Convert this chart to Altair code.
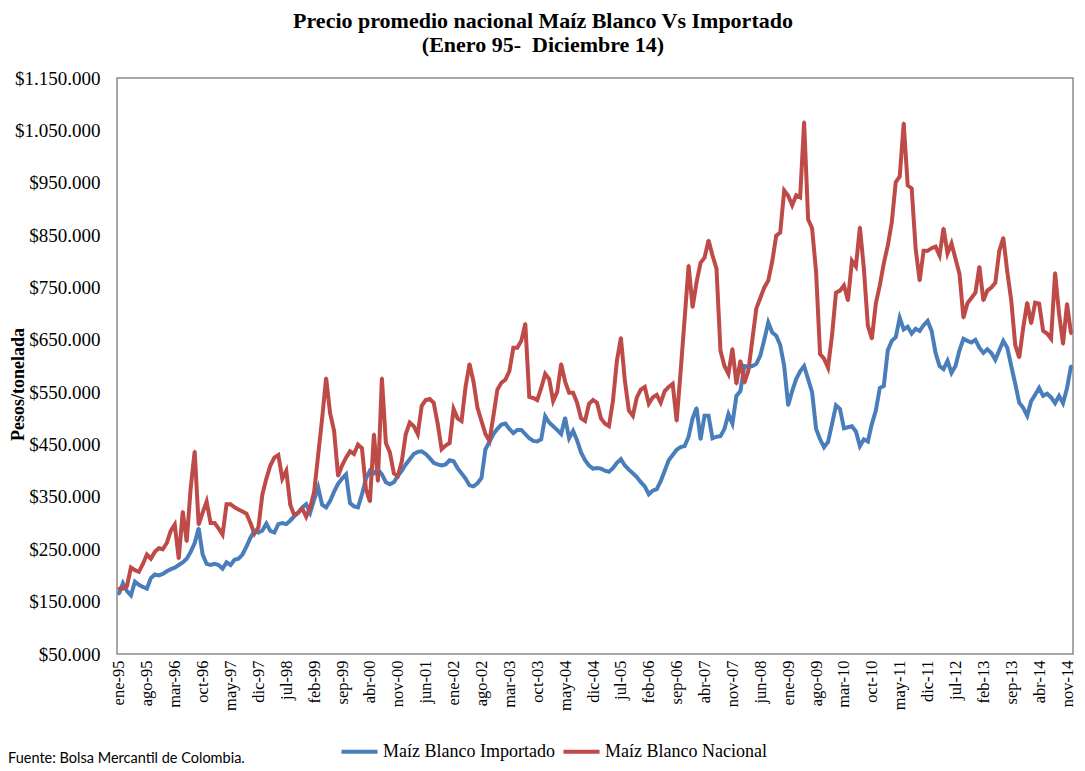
import altair as alt
import pandas as pd

# ---- categories / tick labels ----
months = ["ene", "feb", "mar", "abr", "may", "jun", "jul", "ago", "sep", "oct", "nov", "dic"]
years = ["95", "96", "97", "98", "99", "00", "01", "02", "03", "04",
         "05", "06", "07", "08", "09", "10", "11", "12", "13", "14"]
periods = [f"{m}-{y}" for y in years for m in months]
tick_labels = periods[::7]

y_ticks = [50000, 150000, 250000, 350000, 450000, 550000, 650000,
           750000, 850000, 950000, 1050000, 1150000]

# ---- series values (miles de pesos por tonelada), Ene-95 .. Dic-14 ----
importado = [
    165, 185, 170, 162, 188, 182, 178, 175, 195, 202, 200, 203,   # 1995
    208, 212, 215, 220, 225, 232, 245, 262, 290, 240, 222, 220,   # 1996
    222, 220, 213, 225, 220, 230, 232, 240, 255, 272, 285, 282,   # 1997
    286, 299, 285, 282, 298, 300, 298, 305, 313, 320, 330, 336,   # 1998
    320, 345, 368, 335, 330, 342, 360, 375, 385, 393, 338, 332,   # 1999
    330, 355, 385, 400, 395, 402, 393, 378, 374, 378, 390, 400,   # 2000
    412, 422, 432, 436, 437, 432, 424, 415, 412, 410, 412, 420,   # 2001
    418, 405, 395, 385, 372, 370, 376, 386, 441, 455, 470, 480,   # 2002
    488, 490, 480, 472, 478, 478, 470, 462, 457, 456, 460, 504,   # 2003
    492, 485, 478, 470, 501, 462, 476, 458, 435, 420, 410, 404,   # 2004
    405, 404, 400, 398, 405, 415, 422, 410, 402, 395, 388, 378,   # 2005
    370, 355, 362, 365, 380, 400, 420, 430, 440, 445, 447, 465,   # 2006
    500, 520, 460, 505, 505, 462, 465, 466, 480, 508, 490, 543,   # 2007
    552, 600, 598, 600, 604, 620, 650, 683, 664, 658, 640, 600,   # 2008
    525, 552, 575, 590, 600, 575, 550, 480, 460, 445, 455, 489,   # 2009
    525, 518, 481, 483, 485, 475, 447, 460, 456, 489, 515, 558,   # 2010
    562, 630, 648, 655, 692, 670, 675, 662, 671, 667, 678, 686,   # 2011
    667, 625, 600, 594, 610, 587, 600, 630, 652, 648, 645, 650,   # 2012
    635, 625, 632, 625, 612, 630, 648, 635, 600, 566, 530, 520,   # 2013
    505, 533, 545, 558, 543, 547, 540, 529, 543, 529, 558, 600,   # 2014
]

nacional = [
    175, 175, 180, 215, 210, 207, 222, 240, 232, 245, 252, 250,   # 1995
    262, 285, 297, 232, 322, 265, 367, 437, 297, 320, 341, 300,   # 1996
    300, 290, 278, 336, 336, 330, 326, 322, 318, 300, 280, 292,   # 1997
    355, 385, 410, 425, 430, 385, 400, 335, 315, 320, 328, 312,   # 1998
    330, 360, 430, 500, 577, 510, 476, 390, 410, 425, 437, 432,   # 1999
    450, 443, 365, 341, 470, 380, 577, 453, 435, 395, 390, 418,   # 2000
    470, 492, 485, 470, 524, 535, 537, 530, 490, 441, 448, 453,   # 2001
    518, 500, 495, 560, 604, 570, 520, 495, 470, 457, 505, 555,   # 2002
    568, 574, 590, 635, 635, 648, 681, 541, 539, 535, 558, 585,   # 2003
    575, 533, 550, 604, 570, 549, 549, 530, 500, 495, 528, 535,   # 2004
    530, 500, 490, 485, 533, 610, 654, 572, 515, 505, 540, 555,   # 2005
    560, 528, 540, 545, 530, 552, 560, 566, 495, 590, 690, 792,   # 2006
    712, 760, 797, 807, 840, 811, 786, 629, 600, 585, 633, 566,   # 2007
    610, 568, 591, 650, 710, 730, 750, 763, 800, 849, 855, 935,   # 2008
    925, 907, 926, 922, 1066, 880, 863, 780, 623, 614, 597, 658,  # 2009
    740, 744, 754, 725, 801, 790, 865, 786, 677, 652, 719, 754,   # 2010
    796, 830, 874, 951, 962, 1064, 945, 939, 824, 763, 820, 820,  # 2011
    825, 828, 811, 863, 815, 834, 805, 776, 692, 720, 730, 740,   # 2012
    790, 725, 744, 750, 759, 820, 845, 780, 725, 640, 616, 673,   # 2013
    721, 681, 721, 719, 667, 662, 652, 778, 700, 642, 719, 662,   # 2014
]

series_names = ["Maíz Blanco Importado", "Maíz Blanco Nacional"]
series_colors = ["#4A7EBB", "#BE4B48"]

title_lines = ["Precio promedio nacional Maíz Blanco Vs Importado",
               "(Enero 95-\u00a0 Diciembre 14)"]
y_title = "Pesos/tonelada"
source_note = "Fuente: Bolsa Mercantil de Colombia."

df = pd.DataFrame({
    "periodo": periods * 2,
    "precio": [v * 1000 for v in importado + nacional],
    "serie": [series_names[0]] * len(importado) + [series_names[1]] * len(nacional),
})

SERIF = "Liberation Serif"

x_enc = alt.X(
    "periodo:N",
    sort=periods,
    title=None,
    axis=alt.Axis(values=tick_labels, labelAngle=270, labelFontSize=16.5,
                  labelFont=SERIF, labelColor="#000", ticks=False, domain=False,
                  labelPadding=6, grid=False),
)
y_enc = alt.Y(
    "precio:Q",
    title=y_title,
    scale=alt.Scale(domain=[50000, 1150000], nice=False, zero=False),
    axis=alt.Axis(values=y_ticks, grid=False, ticks=False, domain=False,
                  labelExpr="'$' + replace(replace(format(datum.value, ',.0f'), ',', '.'), ',', '.')",
                  labelFont=SERIF, labelFontSize=19, labelColor="#000", labelPadding=17,
                  titleFont=SERIF, titleFontSize=18, titleFontWeight="bold", titleColor="#000",
                  titleAngle=270, titleAlign="center", titleBaseline="bottom",
                  titleX=-90, titleY=306),
)
color_scale = alt.Scale(domain=series_names, range=series_colors)

lines = alt.Chart(df).mark_line(strokeWidth=4).encode(
    x=x_enc, y=y_enc,
    color=alt.Color(
        "serie:N", scale=color_scale,
        legend=alt.Legend(title=None, orient="none", direction="horizontal",
                          legendX=222, legendY=653, symbolType="stroke",
                          symbolStrokeWidth=4, symbolSize=1300, labelFont=SERIF,
                          labelFontSize=18, labelColor="#000", labelOffset=3,
                          labelLimit=400, columnPadding=0),
    ),
)
points = alt.Chart(df).mark_point(filled=True, size=14, opacity=1, shape="diamond").encode(
    x=x_enc, y=y_enc,
    color=alt.Color("serie:N", scale=color_scale, legend=None),
)
note = alt.Chart(pd.DataFrame({"t": [source_note]})).mark_text(
    font="Lato", fontSize=14.5, align="left", baseline="middle", color="#000"
).encode(x=alt.value(-109), y=alt.value(681), text="t:N")

chart = alt.layer(lines, points, note).properties(
    width=956, height=576,
    autosize=alt.AutoSizeParams(type="none"),
    padding={"left": 109, "top": 70, "right": 4, "bottom": 112},
    title=alt.TitleParams(text=title_lines, font=SERIF, fontSize=22, fontWeight="bold",
                          color="#000", anchor="middle", dx=-52, offset=12, lineHeight=24),
).configure_view(stroke="#8c8c8c", strokeWidth=1.5)

chart.save("out.html", embed_options={"renderer": "svg", "actions": False})
